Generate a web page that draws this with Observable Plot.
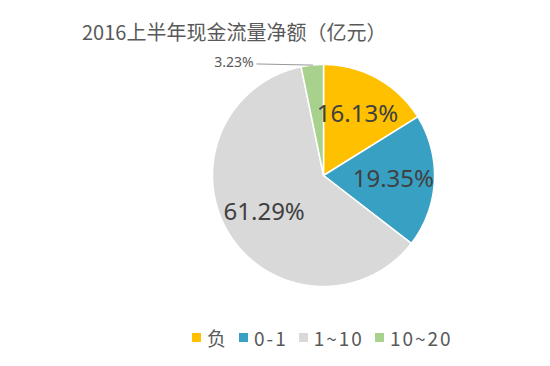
<!DOCTYPE html>
<html><head><meta charset="utf-8">
<script src="https://cdn.jsdelivr.net/npm/d3@7"></script>
<script src="https://cdn.jsdelivr.net/npm/@observablehq/plot@0.6"></script>
<style>
body{margin:0;background:#fff;font-family:"Noto Sans CJK SC","Noto Sans",sans-serif;width:550px;height:366px;overflow:hidden}
#title{height:50px;box-sizing:border-box;padding:20px 0 0 82px;font-size:20px;line-height:24px;color:#595959;white-space:nowrap}
#chart{height:270px}
#legend{display:flex;align-items:center;box-sizing:border-box;padding-left:192px;height:34px;font-size:19px;color:#595959;letter-spacing:2px}
#legend .sw{width:9px;height:9px;margin-right:6px}
#legend .lb{margin-right:11px}
</style></head><body>
<div id="title"></div><div id="chart"></div><div id="legend"></div>
<script>
const title = "2016上半年现金流量净额（亿元）";
const categories = ["负", "0-1", "1~10", "10~20"];
const shares = [16.13, 19.35, 61.29, 3.23];
const labels = ["16.13%", "19.35%", "61.29%", "3.23%"];
const colors = ["#FFC000", "#38A0C3", "#D9D9D9", "#A9D18E"];

document.getElementById("title").textContent = title;

const arcs = d3.pie().sort(null).value(d => d)(shares);
const poly = [];
arcs.forEach((a, i) => {
  const cat = categories[i];
  poly.push({cat, x: 0, y: 0});
  const n = Math.max(4, Math.ceil((a.endAngle - a.startAngle) / 0.01));
  for (let k = 0; k <= n; k++) {
    const t = a.startAngle + (a.endAngle - a.startAngle) * k / n;
    poly.push({cat, x: Math.sin(t), y: Math.cos(t)});
  }
  poly.push({cat, x: 0, y: 0});
});
const mid = a => (a.startAngle + a.endAngle) / 2;
const inner = arcs.map((a, i) => ({i, label: labels[i], x: 0.63 * Math.sin(mid(a)), y: 0.63 * Math.cos(mid(a))})).filter(d => shares[d.i] > 10);
const small = arcs.map((a, i) => ({i, label: labels[i], a})).filter(d => shares[d.i] <= 10);
const leader = [];
small.forEach(d => {
  const m = mid(d.a);
  leader.push({k: d.i, x: Math.sin(m) * 0.97, y: Math.cos(m) * 1.0});
  leader.push({k: d.i, x: -0.6, y: Math.cos(m) * 1.01});
});
const outer = small.map(d => ({label: d.label, x: -0.63, y: Math.cos(mid(d.a)) * 1.02}));

const chart = Plot.plot({
  width: 550, height: 270,
  margin: 0,
  x: {domain: [-1, 1], range: [212, 434], axis: null},
  y: {domain: [-1, 1], range: [236, 14], axis: null},
  color: {domain: categories, range: colors},
  marks: [
    Plot.line(poly, {x: "x", y: "y", z: "cat", fill: "cat", stroke: "white", strokeWidth: 1.5, strokeLinejoin: "round"}),
    Plot.line(leader, {x: "x", y: "y", z: "k", stroke: "#999999", strokeWidth: 1}),
    Plot.text(inner, {x: "x", y: "y", text: "label", fontSize: 24, fill: "#404040", fontFamily: "Noto Sans, sans-serif"}),
    Plot.text(outer, {x: "x", y: "y", text: "label", fontSize: 14, fill: "#595959", textAnchor: "end", fontFamily: "Noto Sans, sans-serif"})
  ]
});
document.getElementById("chart").appendChild(chart);

const lg = document.getElementById("legend");
categories.forEach((c, i) => {
  const sw = document.createElement("span"); sw.className = "sw"; sw.style.background = colors[i];
  const lb = document.createElement("span"); lb.className = "lb"; lb.textContent = c;
  lg.appendChild(sw); lg.appendChild(lb);
});
</script>
</body></html>
